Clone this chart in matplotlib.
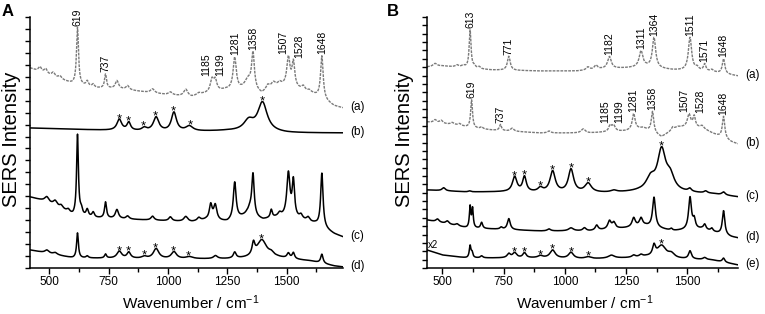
import numpy as np
import matplotlib
matplotlib.use("Agg")
import matplotlib.pyplot as plt
from matplotlib.ticker import MultipleLocator, NullFormatter, FixedLocator

plt.rcParams['font.family'] = ['Liberation Sans', 'DejaVu Sans']
plt.rcParams['mathtext.fontset'] = 'custom'
plt.rcParams['mathtext.rm'] = 'Liberation Sans'
plt.rcParams['mathtext.it'] = 'Liberation Sans:italic'

# ---------------- data (intensity in arbitrary offset units) ----------------
xticks = [500, 750, 1000, 1250, 1500]
A_xlim = (419, 1737)
B_xlim = (437, 1707)

# ----- Panel A -----
Aa_bx = [419, 470, 520, 600, 700, 800, 900, 1000, 1100, 1150, 1240, 1300, 1330, 1395, 1440, 1480, 1560, 1610, 1700, 1737]
Aa_by = [200, 195, 191, 184, 180, 179, 176, 173, 171, 174, 178, 178, 180, 174, 182, 182, 178, 174, 162, 160]
Aa_pk = [461, 485, 517, 545, 619, 660, 685, 737, 785, 830, 935, 1010, 1075, 1130, 1185, 1199, 1281, 1338, 1358, 1420, 1445, 1470, 1507, 1528, 1570, 1595, 1648]
Aa_h  = [5, 5, 4, 3, 57, 5, 3, 14, 8, 4, 4, 3, 7, 2, 12, 11, 32, 8, 36, 4, 3, 3, 29, 25, 4, 2, 43]
Aa_w  = [8, 8, 8, 8, 5, 6, 6, 5, 8, 8, 10, 10, 10, 10, 8, 8, 8, 15, 7, 8, 8, 8, 8, 7, 8, 8, 6.5]

Ab_bx = [419, 700, 1000, 1250, 1500, 1737]
Ab_by = [140, 138, 136, 137, 135, 135]
Ab_pk = [795, 835, 900, 950, 1025, 1090, 1340, 1398]
Ab_h  = [11, 8, 3, 14, 19, 5, 10, 29]
Ab_w  = [12, 9, 12, 14, 13, 18, 25, 24]

Ac_bx = [419, 480, 560, 600, 700, 900, 1100, 1160, 1250, 1330, 1400, 1470, 1560, 1620, 1700, 1737]
Ac_by = [71, 67, 58, 52, 50, 48, 46, 48, 46, 52, 48, 51, 48, 44, 34, 31]
Ac_pk = [490, 525, 550, 580, 619, 635, 660, 685, 737, 785, 830, 935, 1010, 1075, 1130, 1180, 1199, 1281, 1345, 1358, 1435, 1470, 1507, 1528, 1560, 1590, 1648]
Ac_h  = [5, 5, 3, 3, 81, 6, 7, 5, 16, 9, 3, 4, 4, 5, 3, 15, 15, 37, 7, 41, 8, 3, 44, 36, 4, 4, 54]
Ac_w  = [10, 10, 8, 8, 4.5, 6, 6, 6, 5, 8, 8, 8, 8, 10, 8, 7, 8, 7, 12, 6, 5, 8, 8, 6, 8, 8, 6]

Ad_bx = [419, 600, 1000, 1250, 1460, 1600, 1700, 1737]
Ad_by = [18, 10, 9, 9, 10, 7, 2, 1]
Ad_pk = [490, 525, 619, 660, 737, 795, 835, 900, 950, 1025, 1090, 1200, 1281, 1360, 1395, 1435, 1507, 1528, 1648]
Ad_h  = [3, 2, 25, 2, 4, 7, 6, 2, 10, 7, 2, 3, 6, 12, 18, 3, 5, 6, 9]
Ad_w  = [10, 10, 4.5, 6, 5, 12, 9, 12, 14, 13, 18, 10, 7, 7, 25, 12, 7, 6, 6]

A_peak_labels = [619, 737, 1185, 1199, 1281, 1358, 1507, 1528, 1648]
A_stars_b = [795, 835, 897, 947, 1023, 1095, 1398]
A_stars_d = [795, 835, 900, 948, 1023, 1085, 1395]
A_names = ['(a)', '(b)', '(c)', '(d)']

# ----- Panel B -----
Ba_bx = [437, 500, 600, 700, 900, 1050, 1150, 1250, 1330, 1440, 1540, 1600, 1680, 1707]
Ba_by = [201, 202, 200, 198, 197, 197, 199, 200, 201, 198, 197, 196, 193, 192]
Ba_pk = [470, 560, 585, 613, 630, 650, 771, 1094, 1127, 1182, 1311, 1364, 1511, 1540, 1571, 1600, 1648]
Ba_h  = [3, 2, 2, 38, 2, 2, 14, 3, 4, 12, 16, 30, 33, 3, 7, 2, 15]
Ba_w  = [10, 8, 8, 4.5, 6, 6, 7, 8, 8, 9, 9, 8, 8, 8, 6, 8, 6]

Bb_bx = [437, 550, 620, 700, 900, 1100, 1250, 1320, 1395, 1460, 1560, 1600, 1680, 1707]
Bb_by = [146, 143, 140, 138, 135, 135, 137, 140, 131, 141, 140, 135, 126, 124]
Bb_pk = [470, 495, 540, 570, 619, 660, 737, 785, 935, 1075, 1185, 1199, 1281, 1358, 1440, 1507, 1528, 1560, 1648]
Bb_h  = [3, 3, 2, 2, 28, 2, 6, 3, 2, 4, 6, 6, 16, 21, 3, 13, 11, 2, 22]
Bb_w  = [8, 8, 8, 8, 4.5, 6, 5, 8, 8, 10, 7, 8, 7, 6, 6, 8, 6, 8, 6]

Bc_bx = [437, 600, 750, 1000, 1200, 1300, 1500, 1600, 1707]
Bc_by = [78, 76, 76, 75, 75, 76, 75, 74, 71]
Bc_pk = [505, 610, 795, 835, 900, 950, 1025, 1095, 1200, 1350, 1395, 1430, 1510, 1575, 1648]
Bc_h  = [3, 1, 15, 15, 4, 21, 23, 9, 2, 12, 40, 14, 3, 2, 3]
Bc_w  = [8, 6, 11, 9, 12, 13, 13, 16, 15, 22, 20, 20, 8, 8, 8]

Bd_bx = [437, 600, 700, 900, 1100, 1250, 1330, 1440, 1560, 1620, 1680, 1707]
Bd_by = [48, 40, 39, 37, 37, 40, 42, 37, 39, 35, 31, 30]
Bd_pk = [480, 520, 560, 613, 623, 660, 740, 771, 935, 1025, 1080, 1130, 1182, 1200, 1281, 1311, 1364, 1435, 1511, 1528, 1571, 1600, 1648]
Bd_h  = [3, 3, 2, 21, 19, 6, 2, 11, 2, 3, 3, 5, 8, 6, 9, 8, 30, 2, 32, 9, 5, 3, 24]
Bd_w  = [8, 8, 8, 3.5, 3.5, 5, 6, 7, 8, 12, 8, 7, 8, 8, 8, 8, 7, 6, 7, 6, 6, 6, 6]

Be_bx = [437, 500, 600, 900, 1100, 1250, 1330, 1460, 1600, 1707]
Be_by = [18, 13, 10, 10, 9, 10, 11, 9, 8, 3]
Be_pk = [613, 621, 660, 771, 795, 835, 900, 950, 1025, 1095, 1190, 1281, 1311, 1364, 1395, 1435, 1511, 1571, 1648]
Be_h  = [12, 5, 2, 4, 5, 5, 2, 8, 6, 2, 3, 2, 2, 10, 12, 4, 8, 2, 4]
Be_w  = [4, 4, 6, 8, 10, 8, 12, 13, 12, 15, 15, 8, 8, 7, 22, 15, 7, 8, 6]

Ba_peak_labels = [613, 771, 1182, 1311, 1364, 1511, 1571, 1648]
Bb_peak_labels = [619, 737, 1185, 1199, 1281, 1358, 1507, 1528, 1648]
B_stars_c = [795, 835, 900, 950, 1025, 1095, 1395]
B_stars_e = [795, 835, 900, 950, 1025, 1095, 1395]
B_names = ['(a)', '(b)', '(c)', '(d)', '(e)']

# ---------------- drawing ----------------
def spectrum(x, bx, by, pk, h, w):
    y = np.interp(x, bx, by)
    for p, hh, ww in zip(pk, h, w):
        y = y + hh / (1.0 + ((x - p) / ww) ** 2)
    return y

GRAY = '#7a7a7a'
fig = plt.figure(figsize=(7.65, 3.14), dpi=100)
W, H = 765.0, 314.0

def make_ax(left_px, right_px, xlim, ytick_step):
    ax = fig.add_axes([left_px / W, 46 / H, (right_px - left_px) / W, 251 / H])
    ax.set_xlim(*xlim)
    ax.set_ylim(0, 251)
    for s in ['top', 'right']:
        ax.spines[s].set_visible(False)
    for s in ['left', 'bottom']:
        ax.spines[s].set_linewidth(1.1)
    ax.xaxis.set_major_locator(FixedLocator(xticks))
    ax.xaxis.set_minor_locator(MultipleLocator(125))
    ax.yaxis.set_major_locator(MultipleLocator(ytick_step))
    ax.yaxis.set_major_formatter(NullFormatter())
    ax.tick_params(axis='x', which='major', direction='out', length=4, width=1, labelsize=8.5, pad=2)
    ax.tick_params(axis='x', which='minor', direction='out', length=3, width=1)
    ax.tick_params(axis='y', which='major', direction='out', length=3.5, width=1)
    return ax

def draw(ax, x, y, gray):
    if gray:
        ax.plot(x, y, color=GRAY, lw=1.0, ls=(0, (2, 0.8)))
    else:
        ax.plot(x, y, color='black', lw=1.1)

def local_max(x, y, p, half=6):
    m = (x > p - half) & (x < p + half)
    return y[m].max()

def peak_labels(ax, x, y, labels, shifts):
    for lab in labels:
        xp = lab + shifts.get(lab, 0)
        top = local_max(x, y, lab, 5)
        ax.text(xp, top + 1.5, str(lab), rotation=90, ha='center', va='bottom',
                fontsize=7.5, color='black')

def stars(ax, x, y, pos):
    for p in pos:
        top = local_max(x, y, p, 8)
        ax.text(p, top - 3.0, '*', ha='center', va='baseline', fontsize=9.5)

def names(ax, curves, labs):
    for (x, y), lab in zip(curves, labs):
        ax.text(1.022, y[-1] + 1, lab, transform=ax.get_yaxis_transform(),
                ha='left', va='center', fontsize=8.5)

# Panel A
axA = make_ax(30, 343, A_xlim, 251 / 21)
xA = np.linspace(A_xlim[0], A_xlim[1], 4000)
yAa = spectrum(xA, Aa_bx, Aa_by, Aa_pk, Aa_h, Aa_w)
yAb = spectrum(xA, Ab_bx, Ab_by, Ab_pk, Ab_h, Ab_w)
yAc = spectrum(xA, Ac_bx, Ac_by, Ac_pk, Ac_h, Ac_w)
yAd = spectrum(xA, Ad_bx, Ad_by, Ad_pk, Ad_h, Ad_w)
draw(axA, xA, yAa, True)
draw(axA, xA, yAb, False)
draw(axA, xA, yAc, False)
draw(axA, xA, yAd, False)
peak_labels(axA, xA, yAa, A_peak_labels, {1185: -22, 1199: 22, 1507: -22, 1528: 24})
stars(axA, xA, yAb, A_stars_b)
stars(axA, xA, yAd, A_stars_d)
names(axA, [(xA, yAa), (xA, yAb), (xA, yAc), (xA, yAd)], A_names)

# Panel B
axB = make_ax(427, 738, B_xlim, 251 / 30)
xB = np.linspace(B_xlim[0], B_xlim[1], 4000)
yBa = spectrum(xB, Ba_bx, Ba_by, Ba_pk, Ba_h, Ba_w)
yBb = spectrum(xB, Bb_bx, Bb_by, Bb_pk, Bb_h, Bb_w)
yBc = spectrum(xB, Bc_bx, Bc_by, Bc_pk, Bc_h, Bc_w)
yBd = spectrum(xB, Bd_bx, Bd_by, Bd_pk, Bd_h, Bd_w)
yBe = spectrum(xB, Be_bx, Be_by, Be_pk, Be_h, Be_w)
draw(axB, xB, yBa, True)
draw(axB, xB, yBb, True)
draw(axB, xB, yBc, False)
draw(axB, xB, yBd, False)
draw(axB, xB, yBe, False)
peak_labels(axB, xB, yBa, Ba_peak_labels, {})
peak_labels(axB, xB, yBb, Bb_peak_labels, {1185: -21, 1199: 21, 1507: -21, 1528: 23})
stars(axB, xB, yBc, B_stars_c)
stars(axB, xB, yBe, B_stars_e)
names(axB, [(xB, yBa), (xB, yBb), (xB, yBc), (xB, yBd), (xB, yBe)], B_names)
axB.text(B_xlim[0] + 3, yBe[0] + 5, 'x2', ha='left', va='center', fontsize=7)

# axis titles and panel letters
for cx in (191, 585):
    fig.text(cx / W, 1 - 303 / H, 'Wavenumber / cm$^{-1}$', ha='center', va='center', fontsize=11)
for cx in (12, 405):
    fig.text(cx / W, 1 - 139 / H, 'SERS Intensity', rotation=90, ha='center', va='center', fontsize=14.5)
fig.text(8 / W, 1 - 11 / H, 'A', fontsize=12, fontweight='bold', ha='center', va='center')
fig.text(393 / W, 1 - 11 / H, 'B', fontsize=12, fontweight='bold', ha='center', va='center')

fig.savefig('out.png', dpi=100)
